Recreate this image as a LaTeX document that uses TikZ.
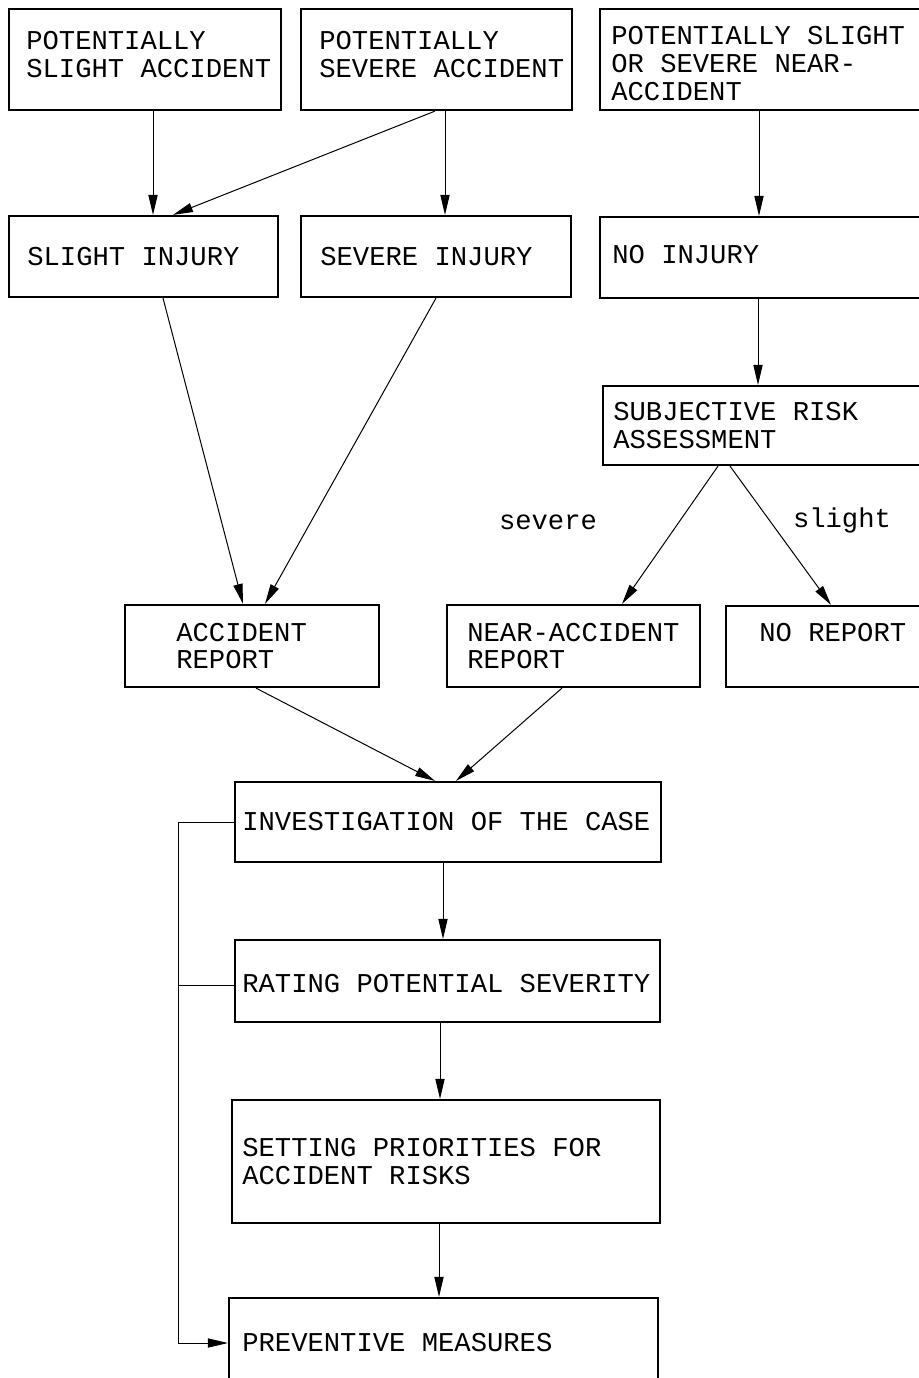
\documentclass[tikz,border=0pt]{standalone}
\usepackage{fontspec}
\setmonofont{Liberation Mono}
\usetikzlibrary{calc,arrows.meta}
\tikzset{
  flow box/.style={draw=black, line width=1.1pt, rectangle, inner sep=0pt},
  box text/.style={anchor=west, align=left, inner sep=0pt,
        font=\ttfamily\fontsize{13.6pt}{13.8pt}\selectfont},
  branch label/.style={inner sep=0pt, font=\ttfamily\fontsize{13.6pt}{13.8pt}\selectfont},
  flow arrow/.style={draw=black, line width=0.5pt, -{Triangle[length=10pt,width=4.6pt]}}
}
\def\FlowBox#1#2#3#4#5#6#7#8{%
 \pgfmathsetmacro\boxwd{(#4-#2)/2}
 \pgfmathsetmacro\boxht{(#5-#3)/2}
 \node[flow box, minimum width=\boxwd pt, minimum height=\boxht pt] (#1) at ({(#2+#4)/2},{(#3+#5)/2}) {};
 \node[box text] (#1 text) at ([xshift=#6, yshift=#7]#1.west) {#8};
}

\begin{document}
\begin{tikzpicture}[x=0.5pt, y=-0.5pt]
\path[use as bounding box] (0,0) rectangle (919,1378);
\clip (0,0) rectangle (919,1378);
% top row
\FlowBox{slightacc}{9}{9}{281}{110}{9pt}{2.5pt}{POTENTIALLY\\SLIGHT ACCIDENT}
\FlowBox{severeacc}{301}{9}{572}{110}{9.5pt}{2.5pt}{POTENTIALLY\\SEVERE ACCIDENT}
\FlowBox{nearacc}{600}{9}{940}{110}{6pt}{-2pt}{POTENTIALLY SLIGHT\\OR SEVERE NEAR-\\ACCIDENT}
% injuries
\FlowBox{slightinj}{9}{216}{278}{297}{9.5pt}{0pt}{SLIGHT INJURY}
\FlowBox{severeinj}{301}{216}{571}{297}{10pt}{0pt}{SEVERE INJURY}
\FlowBox{noinj}{600}{217}{940}{298}{6.5pt}{1.5pt}{NO INJURY}
\FlowBox{riskassess}{603}{386}{940}{465}{5.5pt}{0pt}{SUBJECTIVE RISK\\ASSESSMENT}
% reports
\FlowBox{accreport}{125}{605}{379}{687}{26pt}{0pt}{ACCIDENT\\REPORT}
\FlowBox{nearreport}{447}{605}{700}{687}{10.5pt}{0pt}{NEAR-ACCIDENT\\REPORT}
\FlowBox{noreport}{726}{606}{940}{687}{17pt}{0pt}{NO REPORT\\\mbox{}}
% analysis chain
\FlowBox{investig}{235}{782}{661}{862}{4pt}{0pt}{INVESTIGATION OF THE CASE}
\FlowBox{rating}{235}{940}{660}{1022}{4pt}{-1.5pt}{RATING POTENTIAL SEVERITY}
\FlowBox{priorities}{232}{1100}{660}{1223}{5.5pt}{0pt}{SETTING PRIORITIES FOR\\ACCIDENT RISKS}
\FlowBox{prevent}{229}{1298}{658}{1388}{7pt}{0pt}{PREVENTIVE MEASURES}

\node[branch label] (severe) at (548,522) {severe};
\node[branch label] (slight) at (842,520) {slight};

\draw[flow arrow] ([xshift=4pt]slightacc.south) -- ([xshift=4pt]slightacc.south |- slightinj.north);
\draw[flow arrow] ([xshift=4.25pt]severeacc.south) -- ([xshift=4.25pt]severeacc.south |- severeinj.north);
\draw[flow arrow] ([xshift=-0.75pt]severeacc.south) -- ([xshift=14.75pt]slightinj.north);
\draw[flow arrow] ([xshift=-5.5pt]nearacc.south) -- ([xshift=-5.5pt]nearacc.south |- noinj.north);
\draw[flow arrow] ([xshift=-6pt]noinj.south) -- ([xshift=-6pt]noinj.south |- riskassess.north);
\draw[flow arrow] ([xshift=9.75pt]slightinj.south) -- ([xshift=-4.5pt]accreport.north);
\draw[flow arrow] (severeinj.south) -- ([xshift=6.5pt]accreport.north);
\draw[flow arrow] ([xshift=-26.75pt]riskassess.south) -- ([xshift=24.25pt]nearreport.north);
\draw[flow arrow] ([xshift=-20.75pt]riskassess.south) -- ([xshift=-1pt]noreport.north);
\draw[flow arrow] ([xshift=2pt]accreport.south) -- ([xshift=-6.5pt]investig.north);
\draw[flow arrow] ([xshift=-5.75pt]nearreport.south) -- ([xshift=4pt]investig.north);
\draw[flow arrow] ([xshift=-2.5pt]investig.south) -- ([xshift=-2.5pt]investig.south |- rating.north);
\draw[flow arrow] ([xshift=-3.75pt]rating.south) -- ([xshift=-3.75pt]rating.south |- priorities.north);
\draw[flow arrow] ([xshift=-3.5pt]priorities.south) -- ([xshift=-3.5pt]priorities.south |- prevent.north);
% feedback line
\draw[flow arrow] (investig.west) -- ++(-55,0) |- (prevent.west);
\draw[line width=0.5pt] ([yshift=-2pt]rating.west) -- ++(-55,0);
\end{tikzpicture}
\end{document}
